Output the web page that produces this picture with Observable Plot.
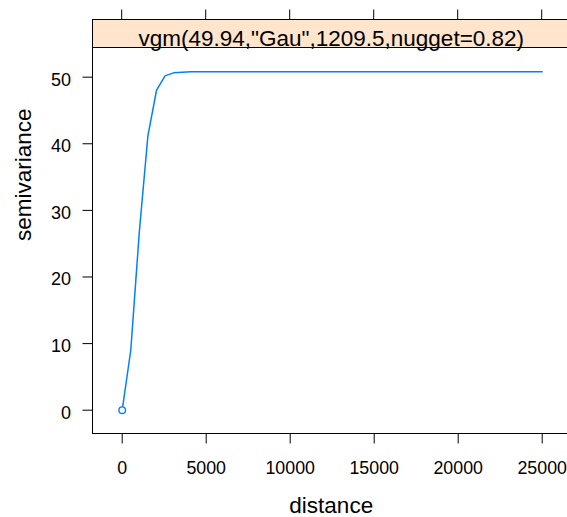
<!DOCTYPE html>
<html>
<head>
<meta charset="utf-8">
<script src="https://cdn.jsdelivr.net/npm/d3@7"></script>
<script src="https://cdn.jsdelivr.net/npm/@observablehq/plot@0.6"></script>
<style>
  html, body { margin: 0; padding: 0; background: white; }
  #chart svg { display: block; }
</style>
</head>
<body>
<div id="chart"></div>
<script>
// Values
const distance = [0, 510, 1020, 1530, 2040, 2550, 3060, 3570, 4080, 25000];
const semivariance = [0, 9.0, 26.8, 41.2, 48.0, 50.2, 50.65, 50.75, 50.8, 50.8];
const xTicks = [0, 5000, 10000, 15000, 20000, 25000];
const yTicks = [0, 10, 20, 30, 40, 50];
const stripLabel = 'vgm(49.94,"Gau",1209.5,nugget=0.82)';
const xLabel = "distance";
const yLabel = "semivariance";

const data = distance.map((d, i) => ({distance: d, gamma: semivariance[i]}));
const FONT = "'Liberation Sans', Arial, Helvetica, sans-serif";
const BLUE = "#0080ff";

function panelDecor(index, scales, values, dims) {
  const {width, height, marginLeft, marginTop, marginBottom, marginRight} = dims;
  const stripH = 28;
  const left = marginLeft, right = width - marginRight + 4;
  const bottom = height - marginBottom, top = marginTop - stripH;
  const g = d3.create("svg:g");
  g.append("rect")
    .attr("x", left).attr("y", top)
    .attr("width", right - left).attr("height", stripH)
    .attr("fill", "#ffe5cc").attr("stroke", "black").attr("stroke-width", 1);
  g.append("rect")
    .attr("x", left).attr("y", top)
    .attr("width", right - left).attr("height", bottom - top)
    .attr("fill", "none").attr("stroke", "black").attr("stroke-width", 1);
  g.selectAll("line.top").data(xTicks).join("line")
    .attr("x1", d => scales.x(d)).attr("x2", d => scales.x(d))
    .attr("y1", top).attr("y2", top - 10)
    .attr("stroke", "black").attr("stroke-width", 1);
  return g.node();
}

const chart = Plot.plot({
  width: 567,
  height: 517,
  marginLeft: 92.5,
  marginRight: 0,
  marginTop: 47.5,
  marginBottom: 83.5,
  style: {fontFamily: FONT, background: "white", color: "black"},
  x: {domain: [-1738, 26506]},
  y: {domain: [-3.573, 54.38]},
  marks: [
    panelDecor,
    Plot.axisX(xTicks, {anchor: "bottom", tickSize: 10, tickPadding: 17, fontSize: 17.8, tickFormat: d => String(d), label: null, stroke: "black", fill: "black"}),
    Plot.axisY(yTicks, {anchor: "left", tickSize: 10, tickFormat: () => "", label: null, stroke: "black"}),
    Plot.text(yTicks, {y: d => d, text: d => String(d), frameAnchor: "left", textAnchor: "end", lineAnchor: "middle", dx: -22, dy: 2.7, fontSize: 18, fill: "black"}),
    Plot.line(data, {x: "distance", y: "gamma", stroke: BLUE, strokeWidth: 1.5}),
    Plot.dot(data.slice(0, 1), {x: "distance", y: "gamma", r: 3.3, stroke: BLUE, strokeWidth: 1.4, fill: "white"}),
    Plot.text([stripLabel], {frameAnchor: "top", lineAnchor: "bottom", dx: 1, dy: -1.8, fontSize: 22.5, fill: "black"}),
    Plot.text([xLabel], {frameAnchor: "bottom", lineAnchor: "bottom", dx: 1, dy: 79, fontSize: 22.5, fill: "black"}),
    Plot.text([yLabel], {frameAnchor: "left", rotate: -90, lineAnchor: "bottom", dx: -62.5, fontSize: 22.5, fill: "black"})
  ]
});
document.getElementById("chart").append(chart);
</script>
</body>
</html>
